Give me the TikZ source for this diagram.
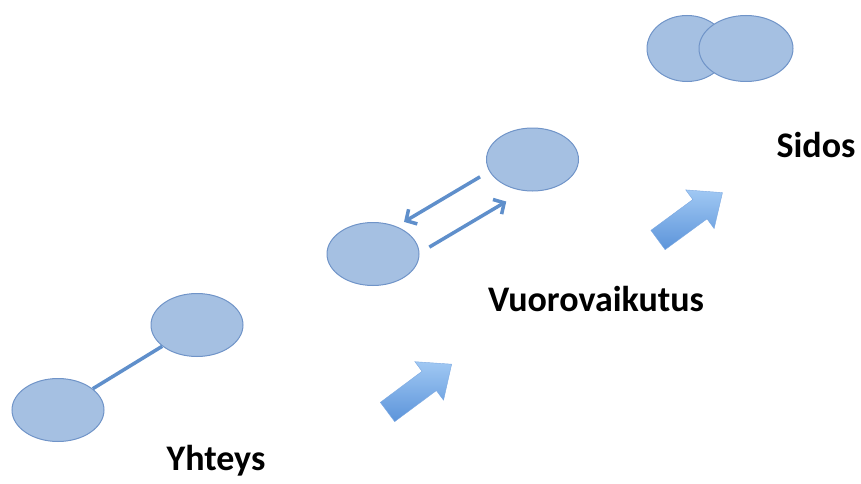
\documentclass[tikz,border=0pt]{standalone}
\usepackage{fontspec}
\setmainfont{Carlito}
\usetikzlibrary{shapes.geometric,arrows.meta}
\definecolor{ellfill}{RGB}{165,192,226}
\definecolor{elldraw}{RGB}{112,148,200}
\definecolor{linkcol}{RGB}{95,143,203}
\definecolor{blocklight}{RGB}{160,200,243}
\definecolor{blockdark}{RGB}{92,148,218}
\tikzset{
  atom/.style={ellipse, fill=ellfill, draw=elldraw, line width=1pt, minimum width=92pt, minimum height=63pt, inner sep=0pt},
  link/.style={draw=linkcol, line width=3.5pt},
  iarrow/.style={draw=linkcol, line width=3.5pt, -{Straight Barb[length=8pt,width=17pt]}},
  label/.style={font=\fontsize{36}{40}\selectfont\bfseries, anchor=base, inner sep=0pt},
  blockarrow/.style={top color=blocklight, bottom color=blockdark, draw=blockdark!80, line width=0.4pt}
}
\begin{document}
\begin{tikzpicture}[x=1pt,y=1pt]
\useasboundingbox (0,0) rectangle (861,483);
% Yhteys
\node[atom] (A) at (58,73) {};
\node[atom] (B) at (197,158) {};
\draw[link] (A) -- (B);
\node[label] (t1) at (216,13) {Yhteys};
% block arrow 1
\begin{scope}[shift={(387.5,71)}, rotate=36.7]
\path[blockarrow] (0,-12) -- (52,-12) -- (52,-24) -- (80,0) -- (52,24) -- (52,12) -- (0,12) -- cycle;
\end{scope}
% Vuorovaikutus
\node[atom] (C) at (373,229) {};
\node[atom] (D) at (532.5,323.5) {};
\draw[iarrow, transform canvas={shift={(-6,10.2)}}, shorten <=54pt, shorten >=43pt] (D.center) -- (C.center);
\draw[iarrow, transform canvas={shift={(11.6,-19.6)}}, shorten <=52pt, shorten >=44pt] (C.center) -- (D.center);
\node[label] (t2) at (596,172) {Vuorovaikutus};
% block arrow 2
\begin{scope}[shift={(658,243)}, rotate=36.3]
\path[blockarrow] (0,-12) -- (52,-12) -- (52,-24) -- (80,0) -- (52,24) -- (52,12) -- (0,12) -- cycle;
\end{scope}
% Sidos
\node[atom, minimum width=80pt, minimum height=66pt] (E1) at (687,434.5) {};
\node[atom, minimum width=94pt, minimum height=66pt] (E2) at (746,434.5) {};
\node[label] (t3) at (816,326) {Sidos};
\end{tikzpicture}
\end{document}
